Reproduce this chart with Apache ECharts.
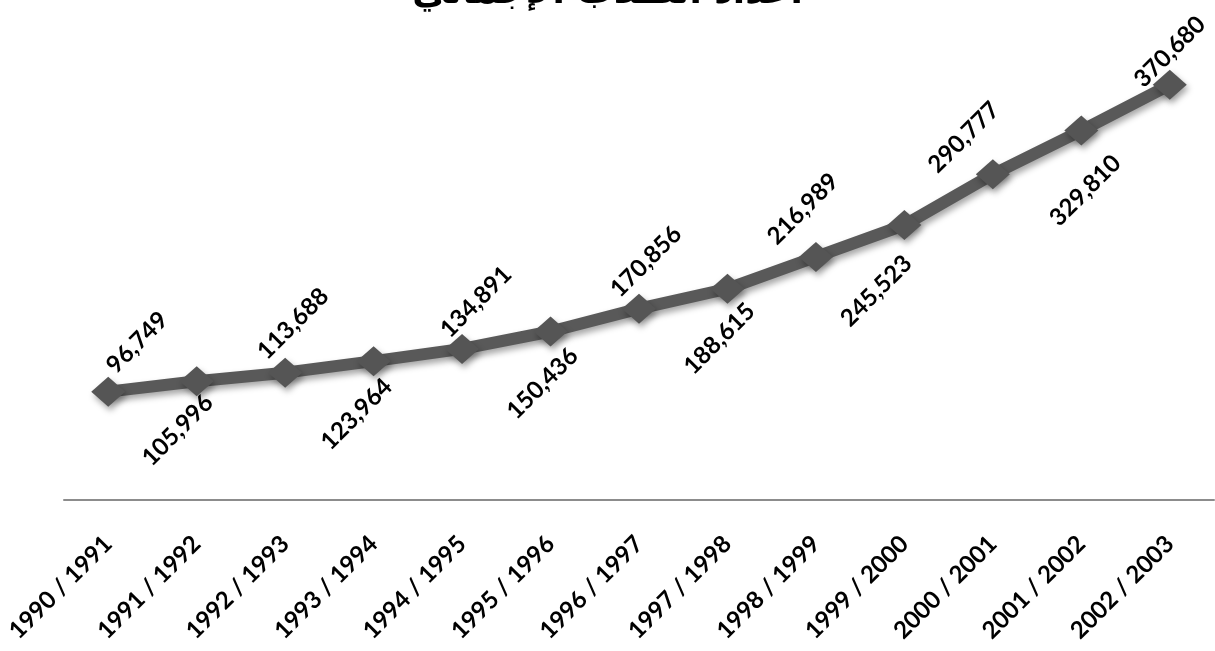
<!DOCTYPE html>
<html>
<head>
<meta charset="utf-8">
<script src="https://cdn.jsdelivr.net/npm/echarts@6/dist/echarts.min.js"></script>
<style>
html,body{margin:0;padding:0;background:#fff;}
#chart{width:1215px;height:651px;}
</style>
</head>
<body>
<div id="chart"></div>
<script>
var titleText = 'أعداد الطلاب الإجمالي';
var categories = ['1990 / 1991','1991 / 1992','1992 / 1993','1993 / 1994','1994 / 1995','1995 / 1996','1996 / 1997','1997 / 1998','1998 / 1999','1999 / 2000','2000 / 2001','2001 / 2002','2002 / 2003'];
var values = [96749,105996,113688,123964,134891,150436,170856,188615,216989,245523,290777,329810,370680];

// label centre offsets from each marker (style only)
var labelOffsets = [[29,-49],[-19,49],[8,-49],[-17,53],[14,-47],[-8,52],[7,-47],[-8,50],[-13,-48],[-28,66],[-29,-37],[4,60],[0,-33]];

var fontFam = 'Lato, "Open Sans", sans-serif';

var chart = echarts.init(document.getElementById('chart'));
chart.setOption({
  animation: false,
  backgroundColor: '#ffffff',
  title: {
    text: titleText,
    left: 'center',
    top: -29,
    textStyle: {fontSize: 36, fontWeight: 'bold', color: '#000', fontFamily: '"DejaVu Sans", sans-serif'}
  },
  grid: {left: 64, right: 1, top: 52, bottom: 151, containLabel: false},
  xAxis: {
    type: 'category',
    data: categories,
    boundaryGap: true,
    axisLine: {show: true, lineStyle: {color: '#8c8c8c', width: 2}},
    axisTick: {show: false},
    splitLine: {show: false},
    axisLabel: {
      rotate: 45, margin: 40, interval: 0,
      fontSize: 24, fontWeight: 'bold', color: '#000', fontFamily: fontFam
    }
  },
  yAxis: {
    type: 'value', min: 0, max: 400000, show: false,
    splitLine: {show: false}
  },
  series: [{
    type: 'line',
    data: values,
    symbol: 'diamond',
    symbolSize: [34, 30],
    lineStyle: {color: '#595959', width: 12, shadowColor: 'rgba(0,0,0,0.35)', shadowBlur: 6, shadowOffsetX: 2, shadowOffsetY: 4},
    itemStyle: {color: '#555555', shadowColor: 'rgba(0,0,0,0.35)', shadowBlur: 6, shadowOffsetX: 2, shadowOffsetY: 4},
    label: {
      show: true,
      position: 'inside',
      align: 'center',
      verticalAlign: 'middle',
      rotate: 45,
      fontSize: 24, fontWeight: 'bold', color: '#000', fontFamily: fontFam,
      formatter: function(p){ return p.value.toLocaleString('en-US'); }
    },
    labelLayout: function(params){
      var r = params.rect;
      var o = labelOffsets[params.dataIndex];
      return {
        x: r.x + r.width / 2 + o[0],
        y: r.y + r.height / 2 + o[1],
        align: 'center',
        verticalAlign: 'middle',
        rotate: 45
      };
    }
  }]
});
</script>
</body>
</html>
